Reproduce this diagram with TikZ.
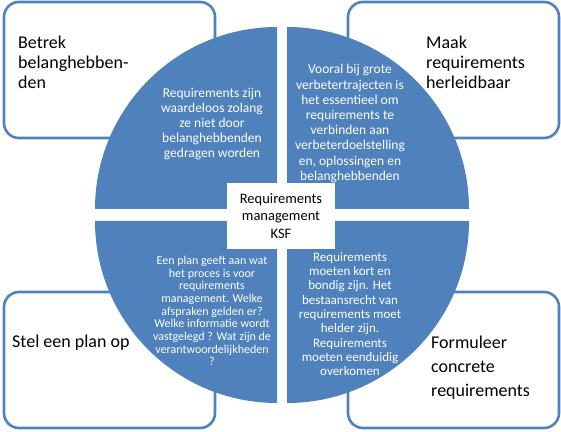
\documentclass[tikz,border=0pt]{standalone}
\usepackage{fontspec}
\setmainfont{Carlito}
\definecolor{pieblue}{HTML}{4F81BD}
\begin{document}
\begin{tikzpicture}[x=1pt,y=1pt,
  outerbox/.style={draw=pieblue,line width=2.6pt,fill=white,rounded corners=15pt},
  outerlabel/.style={anchor=west,inner sep=0pt,align=left,text=black},
  pietext/.style={text=white,align=center,inner sep=0pt},
  centerbox/.style={fill=white,inner sep=0pt,minimum width=108pt,minimum height=66pt,align=center,text=black}]
\useasboundingbox (0,0) rectangle (561,431);
% outer rounded boxes
\draw[outerbox] (4,429) rectangle (215,293);
\draw[outerbox] (348,429) rectangle (559,293);
\draw[outerbox] (4,139) rectangle (215,3);
\draw[outerbox] (348,139) rectangle (559,3);
% quadrants
\fill[pieblue] (277,222) -- ++(-182,0) arc[start angle=180,end angle=90,radius=182] -- cycle;
\fill[pieblue] (287,222) -- ++(182,0) arc[start angle=0,end angle=90,radius=182] -- cycle;
\fill[pieblue] (277,210) -- ++(-182,0) arc[start angle=180,end angle=270,radius=182] -- cycle;
\fill[pieblue] (287,210) -- ++(182,0) arc[start angle=0,end angle=-90,radius=182] -- cycle;
% outer labels
\node[outerlabel,font=\fontsize{18}{20}\selectfont] (l1) at (18,368.5) {Betrek\\belanghebben-\\den};
\node[outerlabel,font=\fontsize{18}{20}\selectfont] (l2) at (426,368.5) {Maak\\requirements\\herleidbaar};
\node[outerlabel,font=\fontsize{18}{20}\selectfont] (l3) at (12,88) {Stel een plan op};
\node[outerlabel,font=\fontsize{18}{24}\selectfont] (l4) at (431,63.5) {Formuleer\\concrete\\requirements};
% quadrant texts
\node[pietext,font=\fontsize{13.5}{15.2}\selectfont] (t1) at (212,307) {Requirements zijn\\waardeloos zolang\\ze niet door\\belanghebbenden\\gedragen worden};
\node[pietext,font=\fontsize{13.5}{15.2}\selectfont] (t2) at (350,307.5) {Vooral bij grote\\verbetertrajecten is\\het essentieel om\\requirements te\\verbinden aan\\verbeterdoelstelling\\en, oplossingen en\\belanghebbenden};
\node[pietext,font=\fontsize{12}{12.7}\selectfont] (t3) at (212,120) {Een plan geeft aan wat\\het proces is voor\\requirements\\management. Welke\\afspraken gelden er?\\Welke informatie wordt\\vastgelegd ? Wat zijn de\\verantwoordelijkheden\\?};
\node[pietext,font=\fontsize{13}{14.3}\selectfont] (t4) at (350,117) {Requirements\\moeten kort en\\bondig zijn. Het\\bestaansrecht van\\requirements moet\\helder zijn.\\Requirements\\moeten eenduidig\\overkomen};
% center
\node[centerbox,font=\fontsize{14.5}{17.5}\selectfont] (c) at (281,215) {Requirements\\management\\KSF};
\end{tikzpicture}
\end{document}
